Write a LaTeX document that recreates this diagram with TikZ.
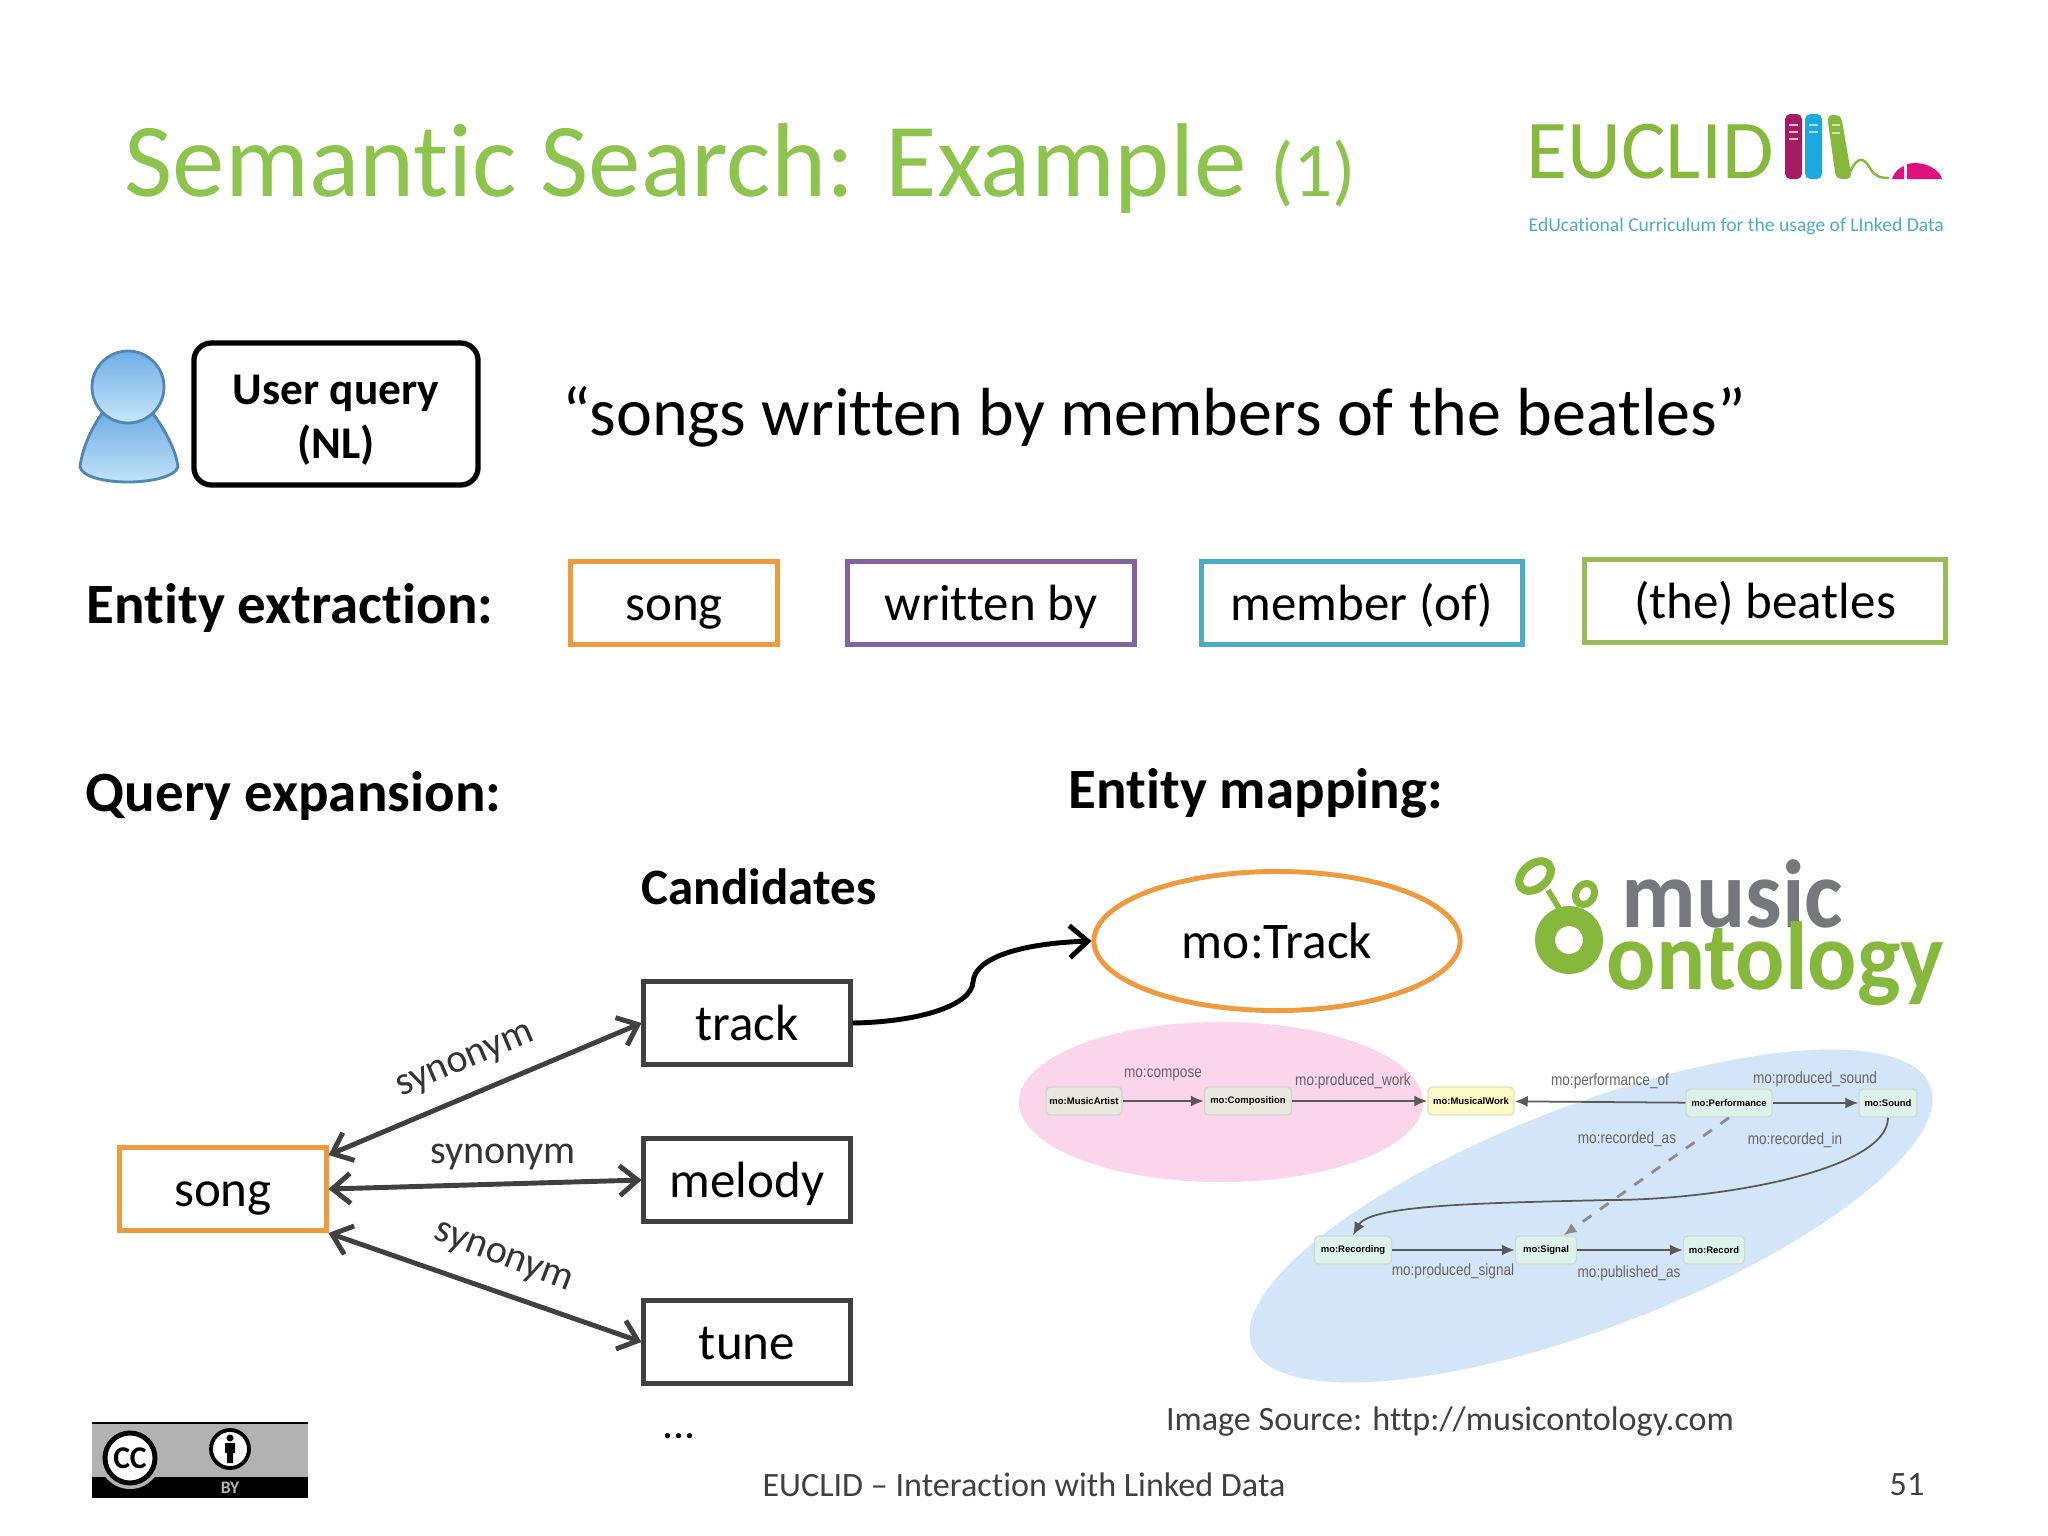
\documentclass[tikz,border=0pt]{standalone}
\usepackage{fontspec}
\setmainfont{Carlito}[Ligatures=CommonOff]
\newfontfamily\smallfont{Liberation Sans}
\usetikzlibrary{arrows.meta,shapes.geometric}
\definecolor{titlegreen}{HTML}{8DC44E}
\definecolor{logogreen}{HTML}{86B83C}
\definecolor{logogray}{HTML}{77787B}
\definecolor{textgray}{HTML}{404040}
\definecolor{boxorange}{HTML}{F09A3E}
\definecolor{boxpurple}{HTML}{8064A2}
\definecolor{boxblue}{HTML}{4BACC6}
\definecolor{boxgreen}{HTML}{9BBB59}
\definecolor{pinkarea}{HTML}{FBD5EA}
\definecolor{bluearea}{HTML}{D3E6F9}
\definecolor{bookred}{HTML}{A51C63}
\definecolor{bookblue}{HTML}{1DA9E0}
\definecolor{mousepink}{HTML}{E0107F}
\definecolor{mogray}{HTML}{E8E8E0}
\definecolor{moyellow}{HTML}{FBFBC8}
\definecolor{mogreen}{HTML}{DDF3EA}
\definecolor{userblue}{HTML}{6FAEE5}
\definecolor{userlight}{HTML}{C8E6FA}
\definecolor{userline}{HTML}{4F86B5}
\newcommand{\fs}[1]{\fontsize{#1}{#1}\selectfont}
\begin{document}
\begin{tikzpicture}[x=0.01cm,y=-0.01cm,
    head/.style={font=\fs{16.2}\bfseries,anchor=base west,inner sep=0},
    entity/.style={draw=#1,line width=1.4pt,minimum width=2.07cm,minimum height=0.83cm,inner sep=0,text height=1em,text depth=0.02em,font=\fs{14.5}},
    cand/.style={draw=textgray,line width=1.4pt,minimum width=2.06cm,minimum height=0.83cm,inner sep=0,text height=1em,text depth=0.02em,font=\fs{14.5}},
    syn/.style={<->,>={Straight Barb[length=1.8mm,width=3mm]},draw=textgray,line width=1.4pt},
    lbl/.style={font=\fs{11.4},text=textgray!80!black,inner sep=0},
    mo/.style={draw=#1!80!gray,fill=#1,rounded corners=1.2pt,inner sep=0,minimum height=0.28cm,font=\smallfont\fs{2.7}\bfseries},
    molbl/.style={font=\smallfont\fs{4.6},text=black!60,inner sep=0,xscale=0.84},
    moedge/.style={-{Latex[length=1.3mm,width=1.1mm]},draw=black!65,line width=0.5pt}]
\useasboundingbox (0,0) rectangle (2048,1536);

\node[anchor=base west,inner sep=0,text=titlegreen,font=\fs{29.85}] (title) at (124,196){Semantic Search: Example \fs{22}(1)};

% EUCLID logo
\node[anchor=west,inner sep=0,text=logogreen,font=\fs{23.8}] (euclid) at (1526,152){EUCLID};
\fill[bookred,rounded corners=1.5pt] (1785,114) rectangle (1802,179);
\fill[bookblue,rounded corners=1.5pt] (1805,114) rectangle (1822,179);
\fill[logogreen,rounded corners=1.5pt] (1827,115) -- (1841,115) -- (1852,179) -- (1836,179) -- cycle;
\draw[white!70!bookred,line width=0.6pt] (1789,125)--(1798,125) (1789,132)--(1798,132) (1789,139)--(1798,139);
\draw[white!60!bookblue,line width=0.6pt] (1809,125)--(1818,125) (1809,132)--(1818,132);
\draw[white!60!logogreen,line width=0.6pt] (1832,125)--(1840,125) (1832,133)--(1840,133);
\draw[logogreen,line width=0.7pt] (1850,172) .. controls (1858,155) and (1864,158) .. (1870,168) .. controls (1874,176) and (1880,178) .. (1889,178);
\fill[mousepink] (1892,179) .. controls (1894,172) and (1899,168) .. (1904,166) -- (1904,179) -- cycle;
\fill[mousepink] (1907,179) -- (1907,164) .. controls (1925,160) and (1940,170) .. (1942,179) -- cycle;
\node[anchor=west,inner sep=0,text=boxblue,font=\fs{5.58}] (sub) at (1528,226){EdUcational Curriculum for the usage of LInked Data};

% user
\shade[top color=userblue,bottom color=userlight,draw=userline,line width=0.8pt] (103,412) .. controls (90,430) and (82,450) .. (80,467) .. controls (85,487) and (170,487) .. (178,467) .. controls (176,450) and (165,430) .. (152,412) -- cycle;
\shade[top color=userblue,bottom color=userlight,draw=userline,line width=0.8pt] (128,387) circle[radius=36];
\node[draw=black,line width=1.5pt,rounded corners=5pt,minimum width=2.84cm,minimum height=1.42cm,inner sep=0,align=center,font=\fs{12.9}\bfseries] (query) at (336,414){\rule{0pt}{12pt}User query\\[2.5pt](NL)};
\node[anchor=base west,inner sep=0,font=\fs{19.35}] (sentence) at (562,435){“songs written by members of the beatles”};

\node[head] (extract) at (86,623){Entity extraction:};
\node[entity=boxorange] (e1) at (674,603){song};
\node[entity=boxpurple,minimum width=2.87cm] (e2) at (991,603){written by};
\node[entity=boxblue,minimum width=3.21cm] (e3) at (1362,603){member (of)};
\node[entity=boxgreen,minimum width=3.6cm] (e4) at (1765,601){(the) beatles};

\node[head] (expand) at (85,811){Query expansion:};
\node[head] (mapping) at (1068,808){Entity mapping:};
\node[head,font=\fs{14.5}\bfseries] (cands) at (641,904){Candidates};

\node[entity=boxorange,minimum width=2.06cm] (song) at (223,1189){song};
\node[cand] (track) at (747,1023){track};
\node[cand] (melody) at (747,1180){melody};
\node[cand] (tune) at (747,1342){tune};

\draw[syn] ([yshift=-0.1cm]song.north east)--(track.west);
\draw[syn] (song.east)--(melody.west);
\draw[syn] (song.south east)--(tune.west);
\node[lbl,rotate=23] (syn1) at (466,1062){synonym};
\node[lbl] (syn2) at (503,1157){synonym};
\node[lbl,rotate=-21] (syn3) at (503,1259){synonym};
\node[font=\fs{12.5},inner sep=0] (more) at (679,1436){...};

\node[ellipse,draw=boxorange,line width=1.4pt,fill=white,minimum width=3.66cm,minimum height=1.39cm,inner sep=0,font=\fs{14.6}] (motrack) at (1277,941){mo:Track};
\draw[->,>={Straight Barb[length=1.8mm,width=3.2mm]},black,line width=1.4pt] (track.east) .. controls (920,1022) and (972,1005) .. (973,982) .. controls (975,955) and (1030,943) .. (motrack.west);

% music ontology logo
\draw[logogreen,line width=2.3pt,rotate around={40:(1535,876)}] (1535,876) ellipse[x radius=18,y radius=12];
\draw[logogreen,line width=2pt,rotate around={60:(1585,894)}] (1585,894) ellipse[x radius=11,y radius=9];
\draw[logogreen,line width=1.6pt] (1548,890)--(1560,910);
\draw[logogreen,line width=5.7pt] (1569,940) ellipse[x radius=24,y radius=24];
\node[anchor=base west,inner sep=0,text=logogray,font=\fs{27.5}\bfseries,xscale=0.95] (music) at (1621,927){music};
\node[anchor=base west,inner sep=0,text=logogreen,font=\fs{27.5}\bfseries,xscale=0.95] (ontology) at (1606,989){ontology};

% areas and the small graph
\node[ellipse,fill=pinkarea,minimum width=4.04cm,minimum height=1.6cm,inner sep=0] (pink) at (1221,1102){};
\node[ellipse,fill=bluearea,rotate=21,minimum width=7.26cm,minimum height=2.22cm,inner sep=0] (blue) at (1591,1216){};
\node[mo=mogray,minimum width=0.76cm] (artist) at (1084,1101){mo:MusicArtist};
\node[mo=mogray,minimum width=0.87cm] (comp) at (1248,1101){mo:Composition};
\node[mo=moyellow,minimum width=0.86cm] (work) at (1471,1101){mo:MusicalWork};
\node[mo=mogreen,minimum width=0.86cm] (perf) at (1729,1103){mo:Performance};
\node[mo=mogreen,minimum width=0.58cm] (sound) at (1888,1103){mo:Sound};
\node[mo=mogreen,minimum width=0.77cm] (rec) at (1353,1250){mo:Recording};
\node[mo=mogreen,minimum width=0.61cm] (signal) at (1546,1250){mo:Signal};
\node[mo=mogreen,minimum width=0.61cm] (record) at (1714,1250){mo:Record};
\draw[moedge] (artist)--(comp);
\draw[moedge] (comp)--(work);
\draw[moedge] (perf)--(work);
\draw[moedge] (perf)--(sound);
\draw[moedge] (rec)--(signal);
\draw[moedge] (signal)--(record);
\draw[moedge,dashed,line width=0.8pt,draw=black!45] (perf.south)--(signal.40);
\draw[moedge] (sound.south) .. controls (1888,1170) and (1720,1200) .. (1609,1200) .. controls (1480,1203) and (1370,1205) .. (rec.north);
\node[molbl] (l1) at (1163,1075){mo:compose};
\node[molbl] (l2) at (1353,1081){mo:produced\_work};
\node[molbl] (l3) at (1610,1081){mo:performance\_of};
\node[molbl] (l4) at (1815,1079){mo:produced\_sound};
\node[molbl] (l5) at (1627,1139){mo:recorded\_as};
\node[molbl] (l6) at (1795,1140){mo:recorded\_in};
\node[molbl] (l7) at (1453,1271){mo:produced\_signal};
\node[molbl] (l8) at (1629,1273){mo:published\_as};

% licence badge
\fill[black!30] (92,1423) rectangle (308,1480);
\fill[black] (92,1477) rectangle (308,1498);
\draw[black,line width=0.8pt] (92,1423)--(308,1423);
\fill[black!30] (130,1458) circle[radius=31];
\draw[black,line width=1.4pt,fill=white] (130,1458) circle[radius=25];
\node[inner sep=0,font=\fs{9}\bfseries] (cc) at (130,1458){CC};
\draw[black,line width=1.1pt,fill=white] (230,1449) circle[radius=19];
\fill[black] (230,1438) circle[radius=3.5] (225,1443) rectangle (235,1453) (227,1453) rectangle (233,1463);
\node[inner sep=0,text=black!30,font=\fs{5}\bfseries] (by) at (230,1488){BY};

\node[inner sep=0,text=textgray,font=\fs{9.7}] (source) at (1450,1422){Image Source: http://musicontology.com};
\node[inner sep=0,text=textgray,font=\fs{9.7}] (footer) at (1024,1485){EUCLID – Interaction with Linked Data};
\node[inner sep=0,text=textgray,font=\fs{9.7}] (page) at (1907,1485){51};
\end{tikzpicture}
\end{document}
